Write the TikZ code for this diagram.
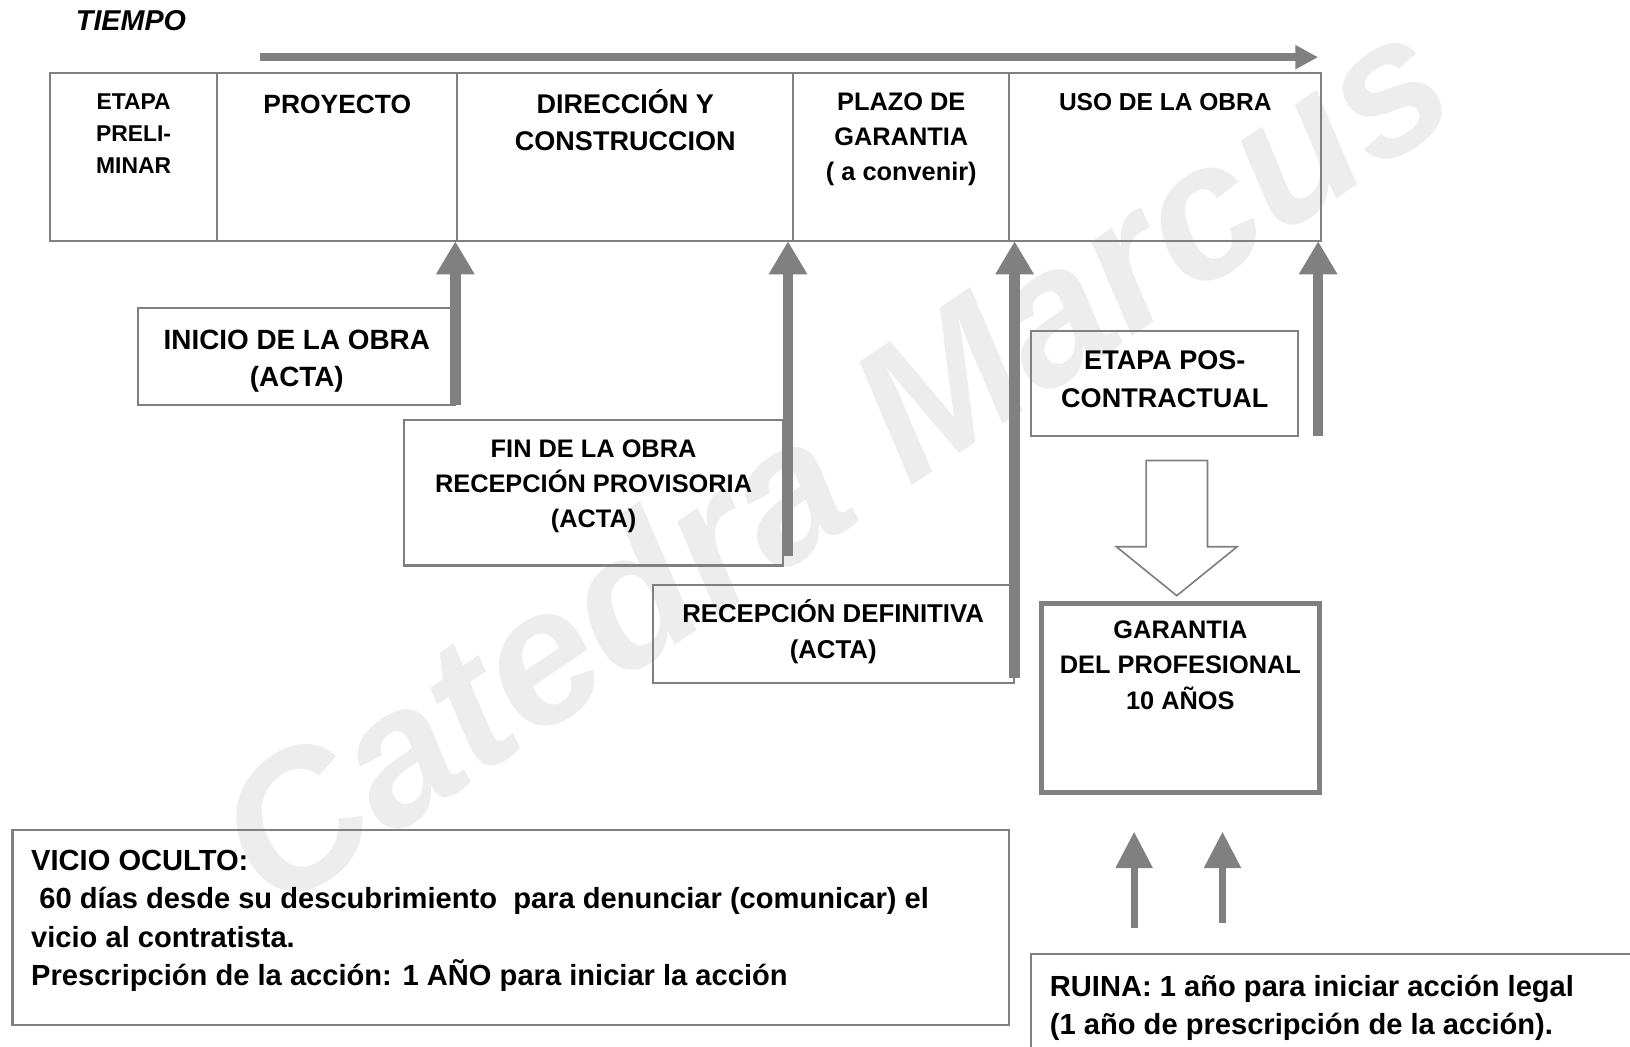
\documentclass[tikz,border=0pt]{standalone}
\usepackage{fontspec}
\setmainfont{Liberation Sans}
\usetikzlibrary{arrows.meta,calc,positioning}

\definecolor{linegray}{RGB}{128,128,128}
\definecolor{markgray}{RGB}{237,237,237}

\tikzset{
  box/.style={draw=linegray, line width=1pt, rectangle, inner sep=0pt, outer sep=0pt},
  phase/.style={box, minimum height=81pt},
  txt/.style={inner sep=0pt, outer sep=0pt, align=center, anchor=north},
  uparrow/.style={draw=linegray, line width=5pt, -{Triangle[width=17.5pt,length=16pt]}},
  smallup/.style={draw=linegray, line width=3.5pt, -{Triangle[width=17pt,length=17.5pt]}},
}

\begin{document}
\begin{tikzpicture}[x=0.5pt, y=-0.5pt]
\clip (0,0) rectangle (1568,1007);

% marca de agua
\node[rotate=34, text=markgray, font=\fontsize{92}{92}\selectfont\bfseries\itshape] (marca) at (800,440) {Catedra Marcus};

% tiempo
\node[txt, anchor=center, font=\fontsize{13.8}{16}\selectfont\bfseries\itshape] (tiempo) at (126,20) {TIEMPO};
\coordinate (t0) at (250,55);
\coordinate (t1) at (1268,55);
\draw[draw=linegray, line width=3.7pt, -{Triangle[width=11pt,length=11pt]}] (t0) -- (t1);

% etapas
\node[phase, minimum width=80.5pt] (prelim) at (128.5,151) {};
\node[phase, minimum width=115.5pt] (proyecto) at (324.5,151) {};
\node[phase, minimum width=161.5pt] (direccion) at (601.5,151) {};
\node[phase, minimum width=104pt] (plazo) at (867,151) {};
\node[phase, minimum width=150pt] (uso) at (1121,151) {};

\node[txt, font=\fontsize{11}{15.25}\selectfont\bfseries] (prelimtxt) at ([yshift=-10.25pt]prelim.north) {ETAPA\\PRELI-\\MINAR};
\node[txt, font=\fontsize{12.7}{18}\selectfont\bfseries] (proyectotxt) at ([yshift=-10.5pt]proyecto.north) {PROYECTO};
\node[txt, font=\fontsize{13}{18}\selectfont\bfseries] (direcciontxt) at ([yshift=-8pt]direccion.north) {DIRECCIÓN Y\\CONSTRUCCION};
\node[txt, font=\fontsize{12.2}{17}\selectfont\bfseries] (plazotxt) at ([yshift=-9.5pt]plazo.north) {PLAZO DE\\GARANTIA\\( a convenir)};
\node[txt, font=\fontsize{11.8}{17}\selectfont\bfseries] (usotxt) at ([yshift=-10pt]uso.north) {USO DE LA OBRA};

% actas
\node[box, minimum width=152.5pt, minimum height=47pt] (inicio) at (285.5,343) {};
\node[txt, font=\fontsize{13.4}{18}\selectfont\bfseries] (iniciotxt) at ([yshift=-10.7pt]inicio.north) {INICIO DE LA OBRA\\(ACTA)};

\node[box, minimum width=182pt, minimum height=70pt] (fin) at (571,474) {};
\node[txt, font=\fontsize{12.2}{16.75}\selectfont\bfseries] (fintxt) at ([yshift=-9.5pt]fin.north) {FIN DE LA OBRA\\RECEPCIÓN PROVISORIA\\(ACTA)};

\node[box, minimum width=173.5pt, minimum height=47pt] (definitiva) at (801.5,610) {};
\node[txt, font=\fontsize{12.4}{17.5}\selectfont\bfseries] (definitivatxt) at ([yshift=-6.9pt]definitiva.north) {RECEPCIÓN DEFINITIVA\\(ACTA)};

\node[box, minimum width=128.5pt, minimum height=50.5pt] (pos) at (1120.5,368.5) {};
\node[txt, font=\fontsize{13}{18}\selectfont\bfseries] (postxt) at ([yshift=-9.85pt]pos.north) {ETAPA POS-\\CONTRACTUAL};

\node[box, line width=2.5pt, minimum width=134pt, minimum height=91pt] (garantia) at (1135.5,671.5) {};
\node[txt, font=\fontsize{12.2}{17}\selectfont\bfseries] (garantiatxt) at ([yshift=-8.25pt]garantia.north) {GARANTIA\\DEL PROFESIONAL\\10 AÑOS};

% flechas a la linea de tiempo
\coordinate (a1) at (inicio.south east);
\coordinate (a2) at ([xshift=2.5pt,yshift=4.5pt]fin.south east);
\coordinate (a3) at ([xshift=0.5pt,yshift=2.5pt]definitiva.south east);
\coordinate (a4) at ([xshift=-1.5pt]pos.south -| uso.east);
\draw[uparrow] (a1) -- (a1 |- direccion.south);
\draw[uparrow] (a2) -- (a2 |- plazo.south);
\draw[uparrow] (a3) -- (a3 |- uso.south);
\draw[uparrow] (a4) -- (a4 |- uso.south);

% flecha hueca
\coordinate (tip) at ([xshift=-1.75pt,yshift=3.75pt]garantia.north);
\draw[draw=linegray, line width=0.8pt] (tip) -- ++(-58,-47) -- ++(28.5,0) -- ++(0,-83) -- ++(59,0) -- ++(0,83) -- ++(28.5,0) -- cycle;

% vicio oculto
\node[box, minimum width=479.5pt, minimum height=94pt] (vicio) at (491.5,892) {};
\node[txt, anchor=north west, align=left, font=\fontsize{14}{18.4}\selectfont\bfseries] (viciotxt) at ([xshift=9pt,yshift=-10pt]vicio.north west) {VICIO OCULTO:\\\hspace*{0.28em}60 días desde su descubrimiento\ \ para denunciar (comunicar) el\\vicio al contratista.\\Prescripción de la acción: 1 AÑO para iniciar la acción};

% ruina
\node[box, minimum width=320pt, minimum height=100pt] (ruina) at (1312,1018) {};
\node[txt, anchor=north west, align=left, font=\fontsize{14}{18.5}\selectfont\bfseries] (ruinatxt) at ([xshift=9pt,yshift=-10pt]ruina.north west) {RUINA: 1 año para iniciar acción legal\\(1 año de prescripción de la acción).};

\coordinate (r1) at ([xshift=49.5pt,yshift=12.5pt]ruina.north west);
\coordinate (r2) at ([xshift=92pt,yshift=15pt]ruina.north west);
\draw[smallup] (r1) -- ([yshift=-18.75pt]r1 |- garantia.south);
\draw[smallup] (r2) -- ([yshift=-18.75pt]r2 |- garantia.south);
\end{tikzpicture}
\end{document}
